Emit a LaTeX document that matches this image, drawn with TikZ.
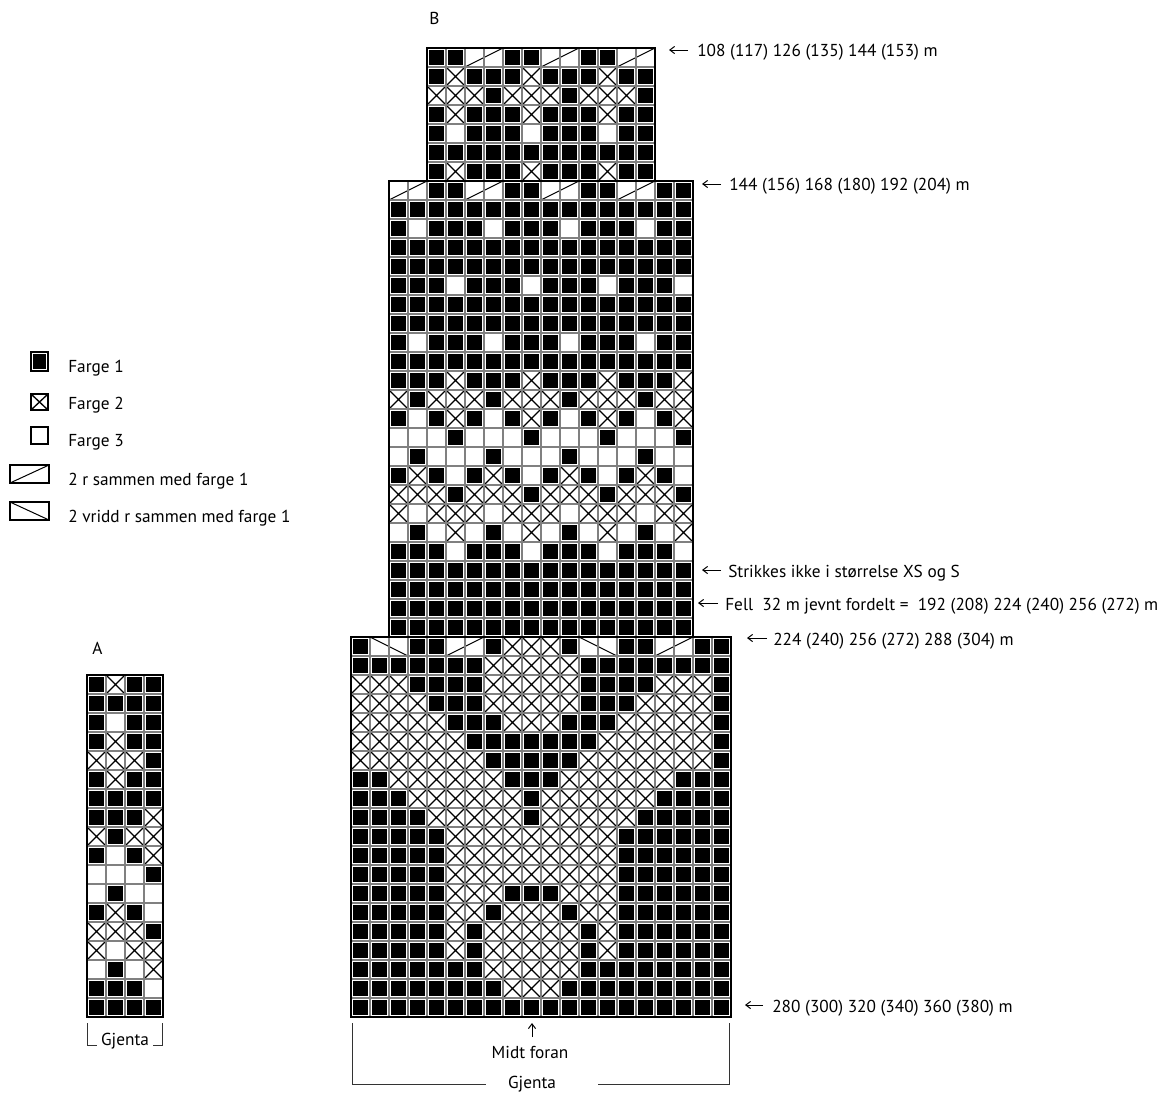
\documentclass[tikz,border=0pt]{standalone}
\usepackage{fontspec}
\setmainfont{PT Sans}
\usetikzlibrary{arrows.meta, calc}

\newcommand{\cellsz}{19}
% simboli delle maglie
\newcommand{\knitK}[2]{\fill[black] (#1+1.6,#2+1.6) rectangle (#1+\cellsz-1.6,#2+\cellsz-1.6);}
\newcommand{\knitX}[2]{\draw[crossline] (#1,#2) -- (#1+\cellsz,#2+\cellsz) (#1,#2+\cellsz) -- (#1+\cellsz,#2);}
\newcommand{\knitO}[2]{}
\newcommand{\knitN}[2]{}
\newcommand{\knitR}[2]{\draw[decline] (#1,#2+\cellsz) -- (#1+2*\cellsz,#2);}
\newcommand{\knitV}[2]{\draw[decline] (#1,#2) -- (#1+2*\cellsz,#2+\cellsz);}
% diagramma: x0, y0, colonne, righe, lista delle righe
\newcommand{\drawchart}[5]{%
  \foreach \row [count=\j] in {#5} {
    \foreach \st [count=\i] in \row {
      \pgfmathsetmacro\cx{#1+(\i-1)*\cellsz}
      \pgfmathsetmacro\cy{#2+(\j-1)*\cellsz}
      \csname knit\st\endcsname{\cx}{\cy}
    }
  }
  \foreach \i in {0,...,#3}
    \draw[gridline] ({#1+\i*\cellsz},#2) -- ({#1+\i*\cellsz},{#2+#4*\cellsz});
  \foreach \j in {0,...,#4}
    \draw[gridline] (#1,{#2+\j*\cellsz}) -- ({#1+#3*\cellsz},{#2+\j*\cellsz});
}

\tikzset{
  gridline/.style={black!50, line width=0.3mm},
  crossline/.style={black, line width=0.33mm},
  decline/.style={black, line width=0.25mm},
  chartframe/.style={black, line width=0.5mm},
  legendbox/.style={draw, black, line width=0.3mm},
  bracketline/.style={black!80, line width=0.25mm},
  pointer/.style={-{Straight Barb[length=1.2mm,width=1.8mm]}, line width=0.25mm},
  lbl/.style={inner sep=0pt, font=\fontsize{12.3}{14}\selectfont},
}

\begin{document}
\begin{tikzpicture}[x=0.25mm, y=-0.25mm]
    \useasboundingbox (0,0) rectangle (1167,1094);
    \fill[white] (0,0) rectangle (1167,1094);

    % Legenda
    \draw[legendbox] (31,352) rectangle (48,371);
    \fill[black] (33,354) rectangle (46,369);
    \draw[legendbox] (31,394) rectangle (48,410);
    \draw[crossline] (31,394) -- (48,410) (31,410) -- (48,394);
    \draw[legendbox] (31,427) rectangle (48,444);
    \draw[legendbox] (10,465) rectangle (49,483);
    \draw[decline] (10,483) -- (49,465);
    \draw[legendbox] (10,502) rectangle (49,520);
    \draw[decline] (10,502) -- (49,520);
    \node[lbl, anchor=base west] (leg1) at (68,372) {Farge 1};
    \node[lbl, anchor=base west] (leg2) at (68,409) {Farge 2};
    \node[lbl, anchor=base west] (leg3) at (68,446) {Farge 3};
    \node[lbl, anchor=base west] (leg4) at (68,485) {2 r sammen med farge 1};
    \node[lbl, anchor=base west] (leg5) at (68,522) {2 vridd r sammen med farge 1};

    % Diagramma B (parte alta)
    \drawchart{427}{48}{12}{7}{%
      {K,K,R,N,K,K,R,N,K,K,R,N},%
      {K,X,K,K,K,X,K,K,K,X,K,K},%
      {X,X,X,K,X,X,X,K,X,X,X,K},%
      {K,X,K,K,K,X,K,K,K,X,K,K},%
      {K,O,K,K,K,O,K,K,K,O,K,K},%
      {K,K,K,K,K,K,K,K,K,K,K,K},%
      {K,X,K,K,K,X,K,K,K,X,K,K}}

    % Diagramma B (parte centrale)
    \drawchart{389}{181}{16}{24}{%
      {R,N,K,K,R,N,K,K,R,N,K,K,R,N,K,K},%
      {K,K,K,K,K,K,K,K,K,K,K,K,K,K,K,K},%
      {K,O,K,K,K,O,K,K,K,O,K,K,K,O,K,K},%
      {K,K,K,K,K,K,K,K,K,K,K,K,K,K,K,K},%
      {K,K,K,K,K,K,K,K,K,K,K,K,K,K,K,K},%
      {K,K,K,O,K,K,K,O,K,K,K,O,K,K,K,O},%
      {K,K,K,K,K,K,K,K,K,K,K,K,K,K,K,K},%
      {K,K,K,K,K,K,K,K,K,K,K,K,K,K,K,K},%
      {K,O,K,K,K,O,K,K,K,O,K,K,K,O,K,K},%
      {K,K,K,K,K,K,K,K,K,K,K,K,K,K,K,K},%
      {K,K,K,X,K,K,K,X,K,K,K,X,K,K,K,X},%
      {X,K,X,X,X,K,X,X,X,K,X,X,X,K,X,X},%
      {K,O,K,X,K,O,K,X,K,O,K,X,K,O,K,X},%
      {O,O,O,K,O,O,O,K,O,O,O,K,O,O,O,K},%
      {O,K,O,O,O,K,O,O,O,K,O,O,O,K,O,O},%
      {K,X,K,O,K,X,K,O,K,X,K,O,K,X,K,O},%
      {X,X,X,K,X,X,X,K,X,X,X,K,X,X,X,K},%
      {X,O,X,X,X,O,X,X,X,O,X,X,X,O,X,X},%
      {O,K,O,X,O,K,O,X,O,K,O,X,O,K,O,X},%
      {K,K,K,O,K,K,K,O,K,K,K,O,K,K,K,O},%
      {K,K,K,K,K,K,K,K,K,K,K,K,K,K,K,K},%
      {K,K,K,K,K,K,K,K,K,K,K,K,K,K,K,K},%
      {K,K,K,K,K,K,K,K,K,K,K,K,K,K,K,K},%
      {K,K,K,K,K,K,K,K,K,K,K,K,K,K,K,K}}

    % Diagramma B (parte bassa)
    \drawchart{351}{637}{20}{20}{%
      {K,V,N,K,K,R,N,K,X,X,X,K,V,N,K,K,R,N,K,K},%
      {K,K,K,K,K,K,K,X,X,X,X,X,K,K,K,K,K,K,K,K},%
      {X,X,X,K,K,K,K,X,X,X,X,X,K,K,K,K,X,X,X,K},%
      {X,X,X,X,K,K,K,X,X,X,X,X,K,K,K,X,X,X,X,K},%
      {X,X,X,X,X,K,K,K,X,X,X,K,K,K,X,X,X,X,X,K},%
      {X,X,X,X,X,X,K,K,K,K,K,K,K,X,X,X,X,X,X,K},%
      {X,X,X,X,X,X,X,K,K,K,K,K,X,X,X,X,X,X,X,K},%
      {K,K,X,X,X,X,X,X,K,K,K,X,X,X,X,X,X,K,K,K},%
      {K,K,K,X,X,X,X,X,X,K,X,X,X,X,X,X,K,K,K,K},%
      {K,K,K,K,X,X,X,X,X,K,X,X,X,X,X,K,K,K,K,K},%
      {K,K,K,K,K,X,X,X,X,X,X,X,X,X,K,K,K,K,K,K},%
      {K,K,K,K,K,X,X,X,X,X,X,X,X,X,K,K,K,K,K,K},%
      {K,K,K,K,K,X,X,X,X,X,X,X,X,X,K,K,K,K,K,K},%
      {K,K,K,K,K,X,X,X,K,K,K,X,X,X,K,K,K,K,K,K},%
      {K,K,K,K,K,X,X,K,X,X,X,K,X,X,K,K,K,K,K,K},%
      {K,K,K,K,K,X,K,X,X,X,X,X,K,X,K,K,K,K,K,K},%
      {K,K,K,K,K,X,K,X,X,X,X,X,K,X,K,K,K,K,K,K},%
      {K,K,K,K,K,K,K,X,X,X,X,X,K,K,K,K,K,K,K,K},%
      {K,K,K,K,K,K,K,K,X,X,X,K,K,K,K,K,K,K,K,K},%
      {K,K,K,K,K,K,K,K,K,K,K,K,K,K,K,K,K,K,K,K}}

    % Diagramma A
    \drawchart{87}{675}{4}{18}{%
      {K,X,K,K},{K,K,K,K},{K,O,K,K},{K,X,K,K},{X,X,X,K},{K,X,K,K},%
      {K,K,K,K},{K,K,K,X},{X,K,X,X},{K,O,K,X},{O,O,O,K},{O,K,O,O},%
      {K,X,K,O},{X,X,X,K},{X,O,X,X},{O,K,O,X},{K,K,K,O},{K,K,K,K}}

    % Contorni
    \draw[chartframe] (427,48) rectangle (655,181);
    \draw[chartframe] (389,181) rectangle (693,637);
    \draw[chartframe] (351,637) rectangle (731,1017);
    \draw[chartframe] (87,675) rectangle (163,1017);

    % Titoli
    \node[lbl, anchor=base west] (titleB) at (429,24) {B};
    \node[lbl, anchor=base west] (titleA) at (92,654) {A};

    % Indicazioni a destra
    \node[lbl, anchor=base west] (lbltop) at (697,56) {108 (117) 126 (135) 144 (153) m};
    \node[lbl, anchor=base west] (lblmid) at (729,190) {144 (156) 168 (180) 192 (204) m};
    \node[lbl, anchor=base west] (lblskip) at (728,577) {Strikkes ikke i størrelse XS og S};
    \node[lbl, anchor=base west] (lblfell) at (725,610) {Fell~ 32 m jevnt fordelt =~ 192 (208) 224 (240) 256 (272) m};
    \node[lbl, anchor=base west] (lblstart) at (773,645) {224 (240) 256 (272) 288 (304) m};
    \node[lbl, anchor=base west] (lblcast) at (772,1012) {280 (300) 320 (340) 360 (380) m};
    \coordinate (tiptop) at (669,50);
    \coordinate (tipmid) at (702,184);
    \coordinate (tipskip) at (702,570);
    \coordinate (tipfell) at (698,603);
    \coordinate (tipstart) at (747,638);
    \coordinate (tipcast) at (745,1005);
    \draw[pointer] ([shift={(-9,-6)}]lbltop.base west) -- (tiptop);
    \draw[pointer] ([shift={(-8,-6)}]lblmid.base west) -- (tipmid);
    \draw[pointer] ([shift={(-7,-7)}]lblskip.base west) -- (tipskip);
    \draw[pointer] ([shift={(-7,-7)}]lblfell.base west) -- (tipfell);
    \draw[pointer] ([shift={(-6,-7)}]lblstart.base west) -- (tipstart);
    \draw[pointer] ([shift={(-9,-7)}]lblcast.base west) -- (tipcast);

    % Sotto il diagramma B
    \node[lbl, anchor=base] (midt) at (530,1058) {Midt foran};
    \coordinate (midtip) at (532,1023);
    \draw[pointer] ([shift={(2,-21)}]midt.base) -- (midtip);
    \node[lbl, anchor=base] (gjentaB) at (532,1088) {Gjenta};
    \coordinate (repL) at (352,1023);
    \coordinate (repR) at (729,1023);
    \draw[bracketline] ([shift={(-22,-4)}]gjentaB.base west) -| (repL);
    \draw[bracketline] ([shift={(42,-4)}]gjentaB.base east) -| (repR);

    % Sotto il diagramma A
    \node[lbl, anchor=base] (gjentaA) at (125,1045) {Gjenta};
    \coordinate (repAL) at (87,1023);
    \coordinate (repAR) at (162,1023);
    \draw[bracketline] ([shift={(-4,0)}]gjentaA.base west) -| (repAL);
    \draw[bracketline] ([shift={(4,0)}]gjentaA.base east) -| (repAR);

\end{tikzpicture}
\end{document}
